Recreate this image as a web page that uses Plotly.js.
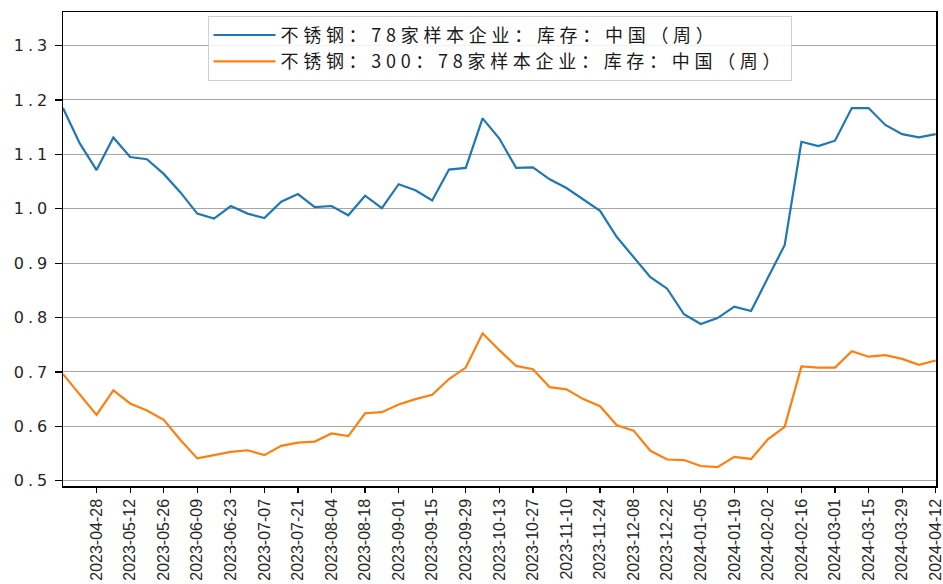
<!DOCTYPE html>
<html>
<head>
<meta charset="utf-8">
<script src="https://cdn.plot.ly/plotly-3.0.1.min.js"></script>
<style>
  html, body { margin: 0; padding: 0; background: #fff; }
  #chart { width: 943px; height: 584px; }
  .legendtext { letter-spacing: 4.7px; }
  .ytick text { letter-spacing: 4px; }
</style>
</head>
<body>
<div id="chart"></div>
<script>
const dates = [
  '2023-04-14','2023-04-21','2023-04-28','2023-05-05','2023-05-12','2023-05-19','2023-05-26',
  '2023-06-02','2023-06-09','2023-06-16','2023-06-23','2023-06-30',
  '2023-07-07','2023-07-14','2023-07-21','2023-07-28',
  '2023-08-04','2023-08-11','2023-08-18','2023-08-25',
  '2023-09-01','2023-09-08','2023-09-15','2023-09-22','2023-09-29',
  '2023-10-06','2023-10-13','2023-10-20','2023-10-27',
  '2023-11-03','2023-11-10','2023-11-17','2023-11-24',
  '2023-12-01','2023-12-08','2023-12-15','2023-12-22','2023-12-29',
  '2024-01-05','2024-01-12','2024-01-19','2024-01-26',
  '2024-02-02','2024-02-09','2024-02-16','2024-02-23',
  '2024-03-01','2024-03-08','2024-03-15','2024-03-22','2024-03-29',
  '2024-04-05','2024-04-12'
];

const xTickDates = [
  '2023-04-28','2023-05-12','2023-05-26','2023-06-09','2023-06-23','2023-07-07','2023-07-21',
  '2023-08-04','2023-08-18','2023-09-01','2023-09-15','2023-09-29','2023-10-13','2023-10-27',
  '2023-11-10','2023-11-24','2023-12-08','2023-12-22','2024-01-05','2024-01-19','2024-02-02',
  '2024-02-16','2024-03-01','2024-03-15','2024-03-29','2024-04-12'
];

const seriesAllName = '不锈钢：78家样本企业：库存：中国（周）';
const seriesAll = [
  1.185, 1.120, 1.071, 1.131, 1.095, 1.091, 1.064, 1.030, 0.991, 0.982,
  1.005, 0.991, 0.983, 1.013, 1.027, 1.003, 1.005, 0.988, 1.024, 1.001,
  1.045, 1.034, 1.015, 1.072, 1.075, 1.166, 1.129, 1.075, 1.076, 1.054,
  1.038, 1.017, 0.996, 0.948, 0.912, 0.874, 0.853, 0.806, 0.788, 0.799,
  0.820, 0.812, 0.873, 0.933, 1.123, 1.115, 1.125, 1.185, 1.185, 1.154,
  1.137, 1.131, 1.137
];

const series300Name = '不锈钢：300：78家样本企业：库存：中国（周）';
const series300 = [
  0.696, 0.658, 0.621, 0.666, 0.642, 0.629, 0.612, 0.575, 0.541, 0.547,
  0.553, 0.556, 0.547, 0.564, 0.570, 0.572, 0.587, 0.582, 0.624, 0.626,
  0.640, 0.650, 0.658, 0.687, 0.708, 0.771, 0.740, 0.711, 0.705, 0.672,
  0.668, 0.650, 0.637, 0.602, 0.592, 0.555, 0.539, 0.538, 0.527, 0.525,
  0.544, 0.540, 0.576, 0.599, 0.710, 0.708, 0.708, 0.738, 0.728, 0.731,
  0.724, 0.713, 0.721
];

const yTicks = [0.5, 0.6, 0.7, 0.8, 0.9, 1.0, 1.1, 1.2, 1.3];

const traces = [
  { x: dates, y: seriesAll, name: seriesAllName, type: 'scatter', mode: 'lines',
    line: { color: '#1f77b4', width: 2.2 } },
  { x: dates, y: series300, name: series300Name, type: 'scatter', mode: 'lines',
    line: { color: '#ff7f0e', width: 2.2 } }
];

const layout = {
  width: 943, height: 584,
  margin: { l: 63, r: 7, t: 12, b: 98, pad: 0 },
  paper_bgcolor: '#fff', plot_bgcolor: '#fff',
  showlegend: true,
  legend: {
    x: 0.5, xanchor: 'center', y: 0.992, yanchor: 'top',
    bgcolor: 'rgba(255,255,255,0.85)', bordercolor: '#d0d0d0', borderwidth: 1,
    font: { family: '"Noto Sans CJK SC", sans-serif', size: 18, color: '#1a1a1a' },
    itemwidth: 62, tracegroupgap: 0
  },
  xaxis: {
    type: 'date',
    range: ['2023-04-14', '2024-04-12 03:00'],
    tickmode: 'array', tickvals: xTickDates,
    tickformat: '%Y-%m-%d', tickangle: -90,
    ticklabeloverflow: 'allow',
    ticks: 'outside', ticklen: 5, tickwidth: 1.2, tickcolor: '#000',
    tickfont: { family: '"Liberation Sans", Arial, sans-serif', size: 16, color: '#262626' },
    showgrid: false, zeroline: false,
    showline: true, linecolor: '#000', linewidth: 1.5, mirror: true,
    automargin: false
  },
  yaxis: {
    range: [0.4903, 1.3616],
    tickvals: yTicks, tickformat: '.1f',
    ticks: 'outside', ticklen: 7, tickwidth: 1.2, tickcolor: '#000',
    tickfont: { family: '"DejaVu Sans", sans-serif', size: 16, color: '#262626' },
    showgrid: true, gridcolor: '#a6a6a6', gridwidth: 1,
    zeroline: false,
    showline: true, linecolor: '#000', linewidth: 1.5, mirror: true,
    automargin: false
  }
};

Plotly.newPlot('chart', traces, layout, { displayModeBar: false, staticPlot: true });
</script>
</body>
</html>
